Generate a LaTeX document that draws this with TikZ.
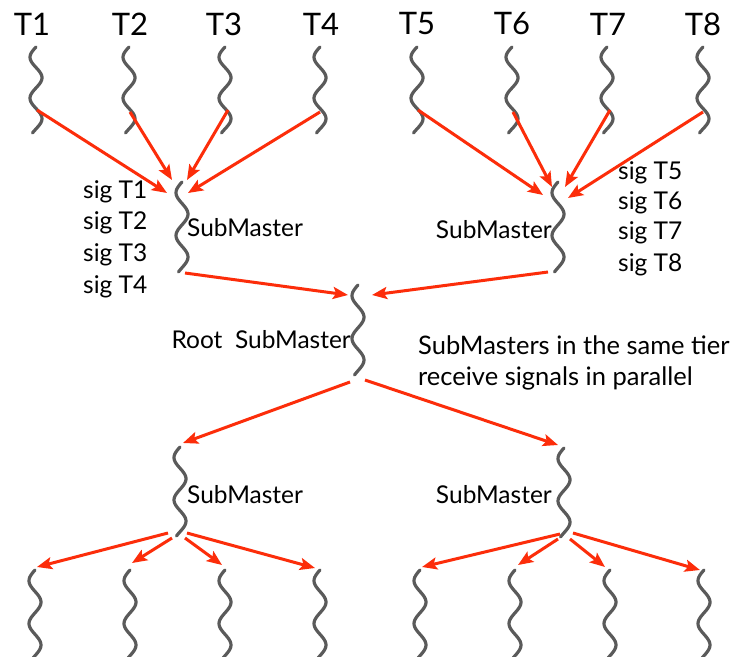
\documentclass[tikz,border=0pt]{standalone}
\usepackage{fontspec}
\setmainfont{Lato}
\usetikzlibrary{arrows.meta}
\definecolor{sigred}{RGB}{252,45,10}
\definecolor{wire}{RGB}{90,90,90}
\begin{document}
\begin{tikzpicture}[x=1pt,y=-1pt,
  squigline/.style={wire,line width=3.2pt,line cap=round},
  sig/.style={sigred,line width=3pt,-{Stealth[length=15pt,width=12pt,inset=3pt]}},
  tlabel/.style={font=\fontsize{31}{36}\selectfont,inner sep=0pt},
  txt/.style={font=\fontsize{24.5}{32}\selectfont,inner sep=0pt},
  ptxt/.style={font=\fontsize{25.5}{32}\selectfont,inner sep=0pt},
  squig/.pic={\draw[squigline] plot[domain=0:1,samples=50,smooth,variable=\u] ({-6*sin(4.2*180*\u)},{#1*\u});},
  squig/.default=88]
\clip (0,0) rectangle (751,656);
\fill[white] (0,0) rectangle (751,656);
% top tier threads
\foreach \x in {36,129,225,320,417,512,607,703}{
  \pic at (\x,47) {squig=86};
}
\node[tlabel] (T1) at (32,24) {T1};
\node[tlabel] (T2) at (130,24) {T2};
\node[tlabel] (T3) at (224,24) {T3};
\node[tlabel] (T4) at (321,24) {T4};
\node[tlabel] (T5) at (417,24) {T5};
\node[tlabel] (T6) at (512,24) {T6};
\node[tlabel] (T7) at (608,24) {T7};
\node[tlabel] (T8) at (703,24) {T8};
% submasters
\pic at (182,182) {squig=90};
\pic at (558,182) {squig=90};
\pic at (358,285) {squig=90};
\pic at (180,447) {squig=89};
\pic at (564,448) {squig=89};
% bottom threads
\foreach \x in {35,130,225,320,420,515,610,704}{
  \pic at (\x,570) {squig=90};
}
% texts
\node[txt,anchor=west] (s1t) at (187,228) {SubMaster};
\node[txt,anchor=east] (s2t) at (552,230) {SubMaster};
\node[txt,anchor=east] (rt) at (351,340) {Root~~SubMaster};
\node[txt,anchor=west] (s3t) at (187,495) {SubMaster};
\node[txt,anchor=east] (s4t) at (552,495) {SubMaster};
\node[txt,anchor=west] (g1) at (83,192) {sig T1};
\node[txt,anchor=west] (g2) at (83,223) {sig T2};
\node[txt,anchor=west] (g3) at (83,255) {sig T3};
\node[txt,anchor=west] (g4) at (83,287) {sig T4};
\node[txt,anchor=west] (g5) at (618,173) {sig T5};
\node[txt,anchor=west] (g6) at (618,203) {sig T6};
\node[txt,anchor=west] (g7) at (618,233) {sig T7};
\node[txt,anchor=west] (g8) at (618,265) {sig T8};
\node[ptxt,anchor=west] (p1) at (418,345) {SubMasters in the same tier};
\node[ptxt,anchor=west] (p2) at (418,378) {receive signals in parallel};
% connector endpoints
\coordinate (a1) at (37,110);  \coordinate (b1) at (167,193);
\coordinate (a2) at (130,112); \coordinate (b2) at (172,180);
\coordinate (a3) at (228,110); \coordinate (b3) at (187,180);
\coordinate (a4) at (320,112); \coordinate (b4) at (188,193);
\coordinate (a5) at (418,110); \coordinate (b5) at (543,195);
\coordinate (a6) at (513,112); \coordinate (b6) at (552,187);
\coordinate (a7) at (610,110); \coordinate (b7) at (565,187);
\coordinate (a8) at (703,112); \coordinate (b8) at (568,198);
\coordinate (s1o) at (185,273); \coordinate (r1) at (348,295);
\coordinate (s2o) at (548,272); \coordinate (r2) at (372,295);
\coordinate (ro1) at (350,382); \coordinate (s3i) at (183,443);
\coordinate (ro2) at (365,380); \coordinate (s4i) at (558,445);
\coordinate (c1) at (168,533); \coordinate (d1) at (37,567);
\coordinate (c2) at (172,538); \coordinate (d2) at (132,563);
\coordinate (c3) at (185,538); \coordinate (d3) at (222,565);
\coordinate (c4) at (187,533); \coordinate (d4) at (315,568);
\coordinate (e1) at (560,534); \coordinate (f1) at (422,567);
\coordinate (e2) at (558,539); \coordinate (f2) at (518,565);
\coordinate (e3) at (570,539); \coordinate (f3) at (605,567);
\coordinate (e4) at (573,533); \coordinate (f4) at (700,570);
\foreach \i in {1,...,8}{\draw[sig] (a\i) -- (b\i);}
\draw[sig] (s1o) -- (r1);
\draw[sig] (s2o) -- (r2);
\draw[sig] (ro1) -- (s3i);
\draw[sig] (ro2) -- (s4i);
\foreach \i in {1,...,4}{\draw[sig] (c\i) -- (d\i); \draw[sig] (e\i) -- (f\i);}
\end{tikzpicture}
\end{document}
